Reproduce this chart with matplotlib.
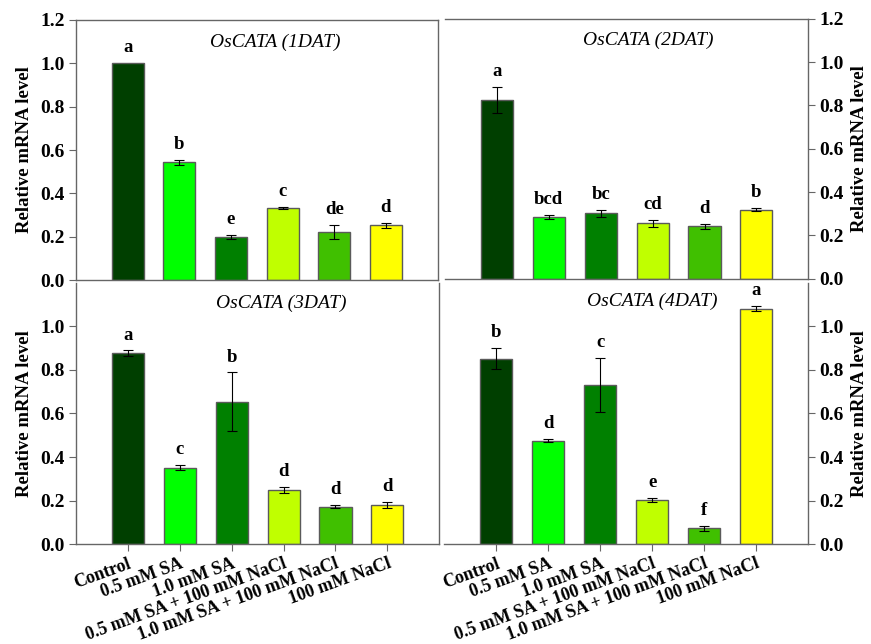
import matplotlib.pyplot as plt
import numpy as np

plt.rcParams['font.family'] = ['Liberation Serif', 'DejaVu Serif']

treatments = ['Control', '0.5 mM SA', '1.0 mM SA', '0.5 mM SA + 100 mM NaCl',
              '1.0 mM SA + 100 mM NaCl', '100 mM NaCl']
bar_colors = ['#003f00', '#00ff00', '#008000', '#c0ff00', '#40c000', '#ffff00']

titles = ['OsCATA (1DAT)', 'OsCATA (2DAT)', 'OsCATA (3DAT)', 'OsCATA (4DAT)']

dat1_mean = [1.00, 0.543, 0.200, 0.332, 0.224, 0.253]
dat1_err = [0.0, 0.012, 0.010, 0.006, 0.032, 0.011]
dat1_letters = ['a', 'b', 'e', 'c', 'de', 'd']

dat2_mean = [0.824, 0.285, 0.302, 0.257, 0.242, 0.319]
dat2_err = [0.059, 0.009, 0.015, 0.016, 0.012, 0.006]
dat2_letters = ['a', 'bcd', 'bc', 'cd', 'd', 'b']

dat3_mean = [0.877, 0.351, 0.654, 0.248, 0.172, 0.181]
dat3_err = [0.012, 0.011, 0.134, 0.014, 0.007, 0.014]
dat3_letters = ['a', 'c', 'b', 'd', 'd', 'd']

dat4_mean = [0.851, 0.475, 0.731, 0.202, 0.072, 1.081]
dat4_err = [0.048, 0.006, 0.124, 0.008, 0.011, 0.012]
dat4_letters = ['b', 'd', 'c', 'e', 'f', 'a']

panels = [(dat1_mean, dat1_err, dat1_letters),
          (dat2_mean, dat2_err, dat2_letters),
          (dat3_mean, dat3_err, dat3_letters),
          (dat4_mean, dat4_err, dat4_letters)]

fig = plt.figure(figsize=(8.71, 6.44), dpi=100)
# [left, bottom, width, height] in figure fractions
rects = [[0.0873, 0.565, 0.415, 0.404],
         [0.511, 0.567, 0.417, 0.404],
         [0.0873, 0.155, 0.417, 0.406],
         [0.510, 0.155, 0.418, 0.406]]
title_pos = [(0.55, 0.915), (0.56, 0.915), (0.565, 0.923), (0.571, 0.93)]

x = np.arange(len(treatments))
spine_col = '#666666'
for i, (means, errs, letters) in enumerate(panels):
    ax = fig.add_axes(rects[i])
    means = np.array(means)
    errs = np.array(errs)
    ax.bar(x, means, width=0.62, color=bar_colors, edgecolor='#5a5a5a', linewidth=1)
    has_err = errs > 0
    ax.errorbar(x[has_err], means[has_err], yerr=errs[has_err], fmt='none', ecolor='black',
                elinewidth=0.8, capsize=3.5, capthick=0.8)
    for xi, m, e, lab in zip(x, means, errs, letters):
        ax.annotate(lab, (xi, m + e), xytext=(0, 5), textcoords='offset points',
                    ha='center', va='bottom', fontsize=13.5, fontweight='bold')
    ax.text(*title_pos[i], titles[i], transform=ax.transAxes, ha='center', va='center',
            fontsize=14, fontstyle='italic')
    ax.set_xlim(-1, 6)
    ax.set_ylim(0, 1.2)
    right = i % 2 == 1
    top = i < 2
    if top:
        ax.set_yticks(np.arange(0, 1.21, 0.2))
    else:
        ax.set_yticks(np.arange(0, 1.01, 0.2))
    ax.set_yticklabels([f'{v:.1f}' for v in ax.get_yticks()], fontsize=14, fontweight='bold')
    for s in ax.spines.values():
        s.set_color(spine_col)
        s.set_linewidth(1)
    ax.spines['top'].set_visible(top)
    ax.spines['left'].set_visible(not right)
    ax.tick_params(axis='y', direction='out', length=5, color=spine_col, pad=3,
                   left=not right, right=right, labelleft=not right, labelright=right)
    if right:
        ax.yaxis.set_label_position('right')
    ax.set_ylabel('Relative mRNA level', fontsize=13.5, fontweight='bold', labelpad=5)
    if top:
        ax.set_xticks([])
    else:
        ax.set_xticks(x)
        ax.set_xticklabels(treatments, rotation=20, ha='right', rotation_mode='anchor',
                           fontsize=13, fontweight='bold')
        ax.tick_params(axis='x', direction='out', length=5, color=spine_col, pad=3)

fig.savefig('out.png', dpi=100)
